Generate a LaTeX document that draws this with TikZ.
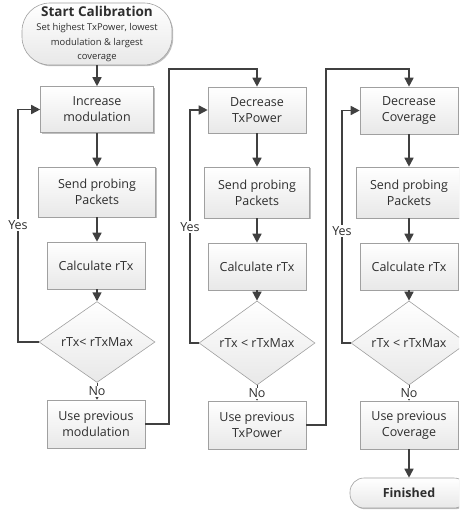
\documentclass[tikz,border=0pt]{standalone}
\usepackage{fontspec}
\setmainfont{Open Sans}
\usetikzlibrary{arrows.meta,shapes.geometric,shadows}
\definecolor{ln}{HTML}{404040}
\definecolor{tx}{HTML}{2E2E2E}
\definecolor{bd}{HTML}{A0A0A0}
\tikzset{
  box/.style={draw=bd, line width=0.6pt, top color=white, bottom color=black!9, text=tx,
    font=\fontsize{12.5}{16}\selectfont, align=center, inner sep=2pt,
    drop shadow={shadow xshift=1.2pt, shadow yshift=-1.2pt, opacity=0.25, fill=black}},
  dia/.style={diamond, draw=bd, line width=0.6pt, top color=white, bottom color=black!9, text=tx,
    font=\fontsize{12.5}{14}\selectfont, inner sep=0pt, minimum width=116pt, minimum height=57pt},
  term/.style={box, rounded corners=14pt},
  arr/.style={draw=ln, line width=1.6pt, -{Triangle[length=9pt,width=9pt]}},
  noarr/.style={draw=ln, line width=0.8pt, -{Triangle[length=4.5pt,width=5pt]}},
  lab/.style={fill=white, text=tx, inner sep=1pt, font=\fontsize{12.5}{14}\selectfont}
}
\begin{document}
\begin{tikzpicture}[x=1pt,y=-1pt]
\useasboundingbox (0,0) rectangle (459,510);
\begin{scope}
\clip (0,0) rectangle (459,510);
% column 1
\node[term, minimum width=150pt, minimum height=62pt, rounded corners=28pt, inner sep=1pt,
  font=\fontsize{9.4}{14.5}\selectfont] (start) at (97,34)
  {\fontsize{13.5}{15}\selectfont\bfseries Start Calibration\\Set highest TxPower, lowest\\ modulation \& largest\\ coverage};
\node[box, minimum width=113pt, minimum height=46pt] (inc) at (97,109.5) {Increase\\modulation};
\node[box, minimum width=117pt, minimum height=50pt] (send1) at (97,192) {Send probing\\Packets};
\node[box, minimum width=98pt, minimum height=47pt] (calc1) at (96,265.5) {Calculate rTx};
\node[dia] (d1) at (97,342) {rTx< rTxMax};
\node[box, minimum width=98pt, minimum height=48pt] (use1) at (96,424) {Use previous\\modulation};
% column 2
\node[box, minimum width=98pt, minimum height=46pt] (dec) at (257,110) {Decrease\\TxPower};
\node[box, minimum width=105pt, minimum height=51pt] (send2) at (257,192.5) {Send probing\\Packets};
\node[box, minimum width=98pt, minimum height=47pt] (calc2) at (257,266.5) {Calculate rTx};
\node[dia] (d2) at (257,343) {rTx < rTxMax};
\node[box, minimum width=98pt, minimum height=48pt] (use2) at (257,425) {Use previous\\TxPower};
% column 3
\node[box, minimum width=98pt, minimum height=47pt] (cov) at (409,110.5) {Decrease\\Coverage};
\node[box, minimum width=105pt, minimum height=51pt] (send3) at (409,192.5) {Send probing\\Packets};
\node[box, minimum width=98pt, minimum height=47pt] (calc3) at (409,266.5) {Calculate rTx};
\node[dia] (d3) at (409,343) {rTx < rTxMax};
\node[box, minimum width=98pt, minimum height=48pt] (use3) at (409,425) {Use previous\\Coverage};
\node[term, minimum width=118pt, minimum height=30pt, font=\fontsize{12.5}{14}\selectfont\bfseries] (fin) at (409,493) {Finished};
% loop x positions
\coordinate (l1) at (18,0);
\coordinate (l2) at (190,0);
\coordinate (l3) at (342,0);
\coordinate (c1) at (169,69);
\coordinate (c2) at (326,69);
% straight arrows
\draw[arr] (start) -- (inc);
\draw[arr] (inc) -- (send1);
\draw[arr] (send1) -- (calc1.north -| send1);
\draw[arr] (calc1.south -| d1) -- (d1);
\draw[arr] (dec) -- (send2);
\draw[arr] (send2) -- (calc2);
\draw[arr] (calc2) -- (d2);
\draw[arr] (cov) -- (send3);
\draw[arr] (send3) -- (calc3);
\draw[arr] (calc3) -- (d3);
\draw[arr] (use3) -- (fin);
% No arrows
\draw[noarr] (d1.south) -- node[lab] {No} (use1.north -| d1);
\draw[noarr] (d2.south) -- node[lab] {No} (use2.north);
\draw[noarr] (d3.south) -- node[lab] {No} (use3.north);
% Yes loops
\draw[arr] (d1.west) -| (l1 |- inc.west) -- (inc.west);
\draw[arr] (d2.west) -| (l2 |- dec.west) -- (dec.west);
\draw[arr] (d3.west) -| (l3 |- cov.west) -- (cov.west);
\node[lab] (y1) at (18,225) {Yes};
\node[lab] (y2) at (190,227) {Yes};
\node[lab] (y3) at (342,231) {Yes};
% column connectors
\draw[arr] (use1.east) -| (c1) -| (dec.north);
\draw[arr] (use2.east) -| (c2) -| (cov.north);
\end{scope}
\end{tikzpicture}
\end{document}
